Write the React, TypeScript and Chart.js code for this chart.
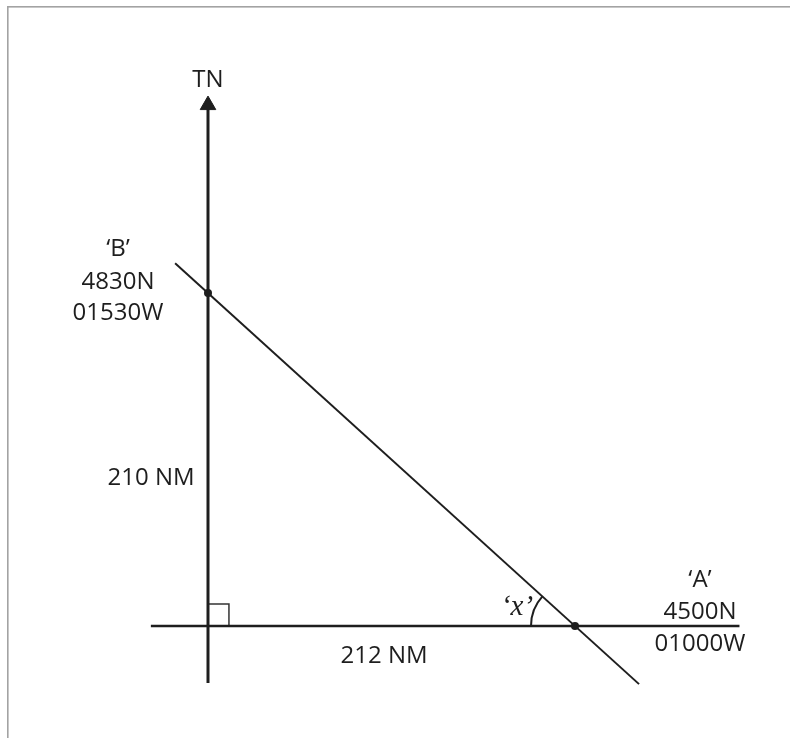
import React, { useEffect, useRef } from "react";
import { Chart, registerables } from "chart.js";

Chart.register(...registerables);

// Waypoints (diagram units: nautical miles east / north of the right-angle corner)
const pointNames = ["‘A’", "‘B’"];
const pointEastNM = [212, 0];
const pointNorthNM = [0, 210];
const pointLat = ["4500N", "4830N"];
const pointLon = ["01000W", "01530W"];

// Leg distances
const legValuesNM = [210, 212]; // northward leg, eastward leg
const legUnit = "NM";
const northLabel = "TN";
const angleLabel = "‘x’";

// Extents of the drawn lines (NM units)
const meridianNorth = [-36, 328.5];
const parallelEast = [-33, 307];
const trackEast = [-19, 249];
const trackNorth = [228.8, -36.65];
const rightAngleSide = [12.1, 13.9];

// Label anchors (NM units)
const labelAnchors = {
  north: { x: 0, y: 340 },
  groupB: { x: -52, y: [233.3, 212.5, 192.9] },
  groupA: { x: 284.2, y: [24.6, 4.4, -15.8] },
  legNorth: { x: -32.9, y: 88.9 },
  legEast: { x: 101.7, y: -23.3 },
  angle: { x: 178.5, y: 6.9 },
};

const INK = "#1e1e1e";

const diagramPlugin = {
  id: "diagramText",
  afterDatasetsDraw(chart: any) {
    const ctx = chart.ctx as CanvasRenderingContext2D;
    const xs = chart.scales.x;
    const ys = chart.scales.y;
    const px = (v: number) => xs.getPixelForValue(v);
    const py = (v: number) => ys.getPixelForValue(v);
    ctx.save();

    // frame (top + left rule)
    ctx.fillStyle = "#a3a3a3";
    ctx.fillRect(7, 6, 783, 1.6);
    ctx.fillRect(7, 6, 1.6, 732);

    // angle arc at A
    const ax = px(pointEastNM[0]);
    const ay = py(pointNorthNM[0]);
    const bx = px(pointEastNM[1]);
    const by = py(pointNorthNM[1]);
    const ang = Math.atan2(by - ay, bx - ax);
    ctx.strokeStyle = INK;
    ctx.lineWidth = 2;
    ctx.beginPath();
    ctx.arc(ax, ay, 44, ang, Math.PI, true);
    ctx.stroke();

    ctx.fillStyle = INK;
    ctx.textAlign = "center";
    ctx.textBaseline = "alphabetic";
    ctx.font = "24px 'Open Sans'";

    ctx.fillText(northLabel, px(labelAnchors.north.x), py(labelAnchors.north.y));

    const gb = labelAnchors.groupB;
    [pointNames[1], pointLat[1], pointLon[1]].forEach((t, i) =>
      ctx.fillText(t, px(gb.x), py(gb.y[i]))
    );
    const ga = labelAnchors.groupA;
    [pointNames[0], pointLat[0], pointLon[0]].forEach((t, i) =>
      ctx.fillText(t, px(ga.x), py(ga.y[i]))
    );

    ctx.fillText(
      `${legValuesNM[0]} ${legUnit}`,
      px(labelAnchors.legNorth.x),
      py(labelAnchors.legNorth.y)
    );
    ctx.fillText(
      `${legValuesNM[1]} ${legUnit}`,
      px(labelAnchors.legEast.x),
      py(labelAnchors.legEast.y)
    );

    ctx.font = "italic 29px 'Liberation Serif'";
    ctx.fillText(angleLabel, px(labelAnchors.angle.x), py(labelAnchors.angle.y));

    ctx.restore();
  },
};

export default function App() {
  const ref = useRef<HTMLCanvasElement | null>(null);

  useEffect(() => {
    if (!ref.current) return;
    const kx = 367 / 212;
    const ky = 333 / 210;
    const chart = new Chart(ref.current, {
      type: "scatter",
      data: {
        datasets: [
          {
            label: "waypoints",
            data: pointEastNM.map((x, i) => ({ x, y: pointNorthNM[i] })),
            showLine: false,
            pointRadius: 4,
            pointBackgroundColor: INK,
            pointBorderColor: INK,
            pointBorderWidth: 0,
          },
          {
            label: "meridian",
            data: meridianNorth.map((y) => ({ x: 0, y })),
            showLine: true,
            borderColor: INK,
            borderWidth: 3,
            borderCapStyle: "butt",
            pointStyle: "triangle",
            pointRadius: [0, 9],
            pointBackgroundColor: INK,
            pointBorderColor: INK,
            pointBorderWidth: 1,
          },
          {
            label: "parallel",
            data: parallelEast.map((x) => ({ x, y: 0 })),
            showLine: true,
            borderColor: INK,
            borderWidth: 2.6,
            pointRadius: 0,
          },
          {
            label: "track",
            data: trackEast.map((x, i) => ({ x, y: trackNorth[i] })),
            showLine: true,
            borderColor: INK,
            borderWidth: 2,
            pointRadius: 0,
          },
          {
            label: "right angle",
            data: [
              { x: 0, y: rightAngleSide[1] },
              { x: rightAngleSide[0], y: rightAngleSide[1] },
              { x: rightAngleSide[0], y: 0 },
            ],
            showLine: true,
            borderColor: "#333",
            borderWidth: 1.5,
            pointRadius: 0,
          },
        ],
      },
      options: {
        animation: false,
        responsive: false,
        maintainAspectRatio: false,
        layout: { padding: 0, autoPadding: false },
        plugins: {
          legend: { display: false },
          tooltip: { enabled: false },
        },
        events: [],
        scales: {
          x: { type: "linear", display: false, min: -208 / kx, max: 582 / kx },
          y: { type: "linear", display: false, min: -112 / ky, max: 626 / ky },
        },
      },
      plugins: [diagramPlugin],
    });
    return () => chart.destroy();
  }, []);

  return (
    <div
      style={{
        position: "absolute",
        left: 0,
        top: 0,
        width: 790,
        height: 738,
        background: "#fff",
      }}
    >
      <canvas ref={ref} width={790} height={738} style={{ display: "block" }} />
    </div>
  );
}
